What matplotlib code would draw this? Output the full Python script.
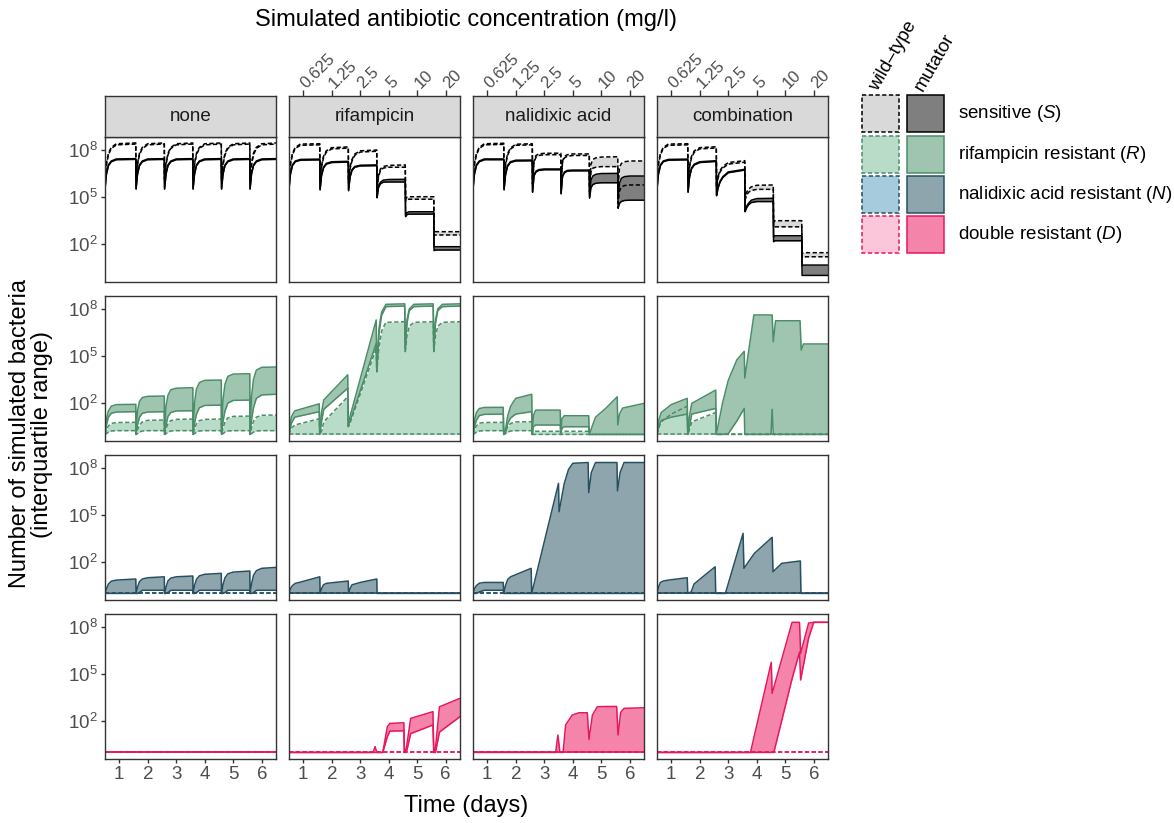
import numpy as np
import matplotlib
matplotlib.use("Agg")
import matplotlib.pyplot as plt
from matplotlib.patches import Rectangle
from matplotlib.ticker import NullLocator

plt.rcParams["font.family"] = ["Liberation Sans", "DejaVu Sans"]
plt.rcParams["mathtext.fontset"] = "custom"
plt.rcParams["mathtext.rm"] = "Liberation Sans"
plt.rcParams["mathtext.it"] = "Liberation Sans:italic"
plt.rcParams["mathtext.bf"] = "Liberation Sans:bold"

# %% data: log10(number of bacteria)
treatments = ["none", "rifampicin", "nalidixic acid", "combination"]
conc_ticks = [1, 2, 3, 4, 5, 6]
conc_labels = ["0.625", "1.25", "2.5", "5", "10", "20"]
day_ticks = [1, 2, 3, 4, 5, 6]
legend_labels = [r"sensitive ($\mathit{S}$)", r"rifampicin resistant ($\mathit{R}$)",
                 r"nalidixic acid resistant ($\mathit{N}$)", r"double resistant ($\mathit{D}$)"]

t_flat = [0.50, 6.50]
flat_zero = [0.00, 0.00]

t_std = [0.50, 0.55, 0.62, 0.72, 0.90, 1.58,
         1.59, 1.64, 1.71, 1.81, 2.00, 2.58,
         2.59, 2.64, 2.71, 2.81, 3.00, 3.58,
         3.59, 3.64, 3.71, 3.81, 4.00, 4.58,
         4.59, 4.64, 4.71, 4.81, 5.00, 5.58,
         5.59, 5.64, 5.71, 5.81, 6.00, 6.50]

# --- sensitive (S)
none_S_wt_hi = [6.20, 7.15, 7.80, 8.17, 8.40, 8.45, 6.20, 7.15, 7.80, 8.17, 8.40, 8.45,
                6.20, 7.15, 7.80, 8.17, 8.40, 8.45, 6.20, 7.15, 7.80, 8.17, 8.40, 8.45,
                6.20, 7.15, 7.80, 8.17, 8.40, 8.45, 6.20, 7.15, 7.80, 8.17, 8.40, 8.45]
none_S_wt_lo = [6.10, 7.05, 7.70, 8.10, 8.33, 8.38, 6.10, 7.05, 7.70, 8.10, 8.33, 8.38,
                6.10, 7.05, 7.70, 8.10, 8.33, 8.38, 6.10, 7.05, 7.70, 8.10, 8.33, 8.38,
                6.10, 7.05, 7.70, 8.10, 8.33, 8.38, 6.10, 7.05, 7.70, 8.10, 8.33, 8.38]
none_S_mut_hi = [5.55, 6.50, 7.05, 7.30, 7.43, 7.45, 5.55, 6.50, 7.05, 7.30, 7.43, 7.45,
                 5.55, 6.50, 7.05, 7.30, 7.43, 7.45, 5.55, 6.50, 7.05, 7.30, 7.43, 7.45,
                 5.55, 6.50, 7.05, 7.30, 7.43, 7.45, 5.55, 6.50, 7.05, 7.30, 7.43, 7.45]
none_S_mut_lo = [5.50, 6.45, 7.00, 7.25, 7.38, 7.40, 5.50, 6.45, 7.00, 7.25, 7.38, 7.40,
                 5.50, 6.45, 7.00, 7.25, 7.38, 7.40, 5.50, 6.45, 7.00, 7.25, 7.38, 7.40,
                 5.50, 6.45, 7.00, 7.25, 7.38, 7.40, 5.50, 6.45, 7.00, 7.25, 7.38, 7.40]

rif_S_wt_hi = [6.20, 7.15, 7.80, 8.17, 8.38, 8.40, 6.10, 7.00, 7.60, 7.95, 8.15, 8.20,
               6.00, 6.90, 7.40, 7.75, 7.95, 8.00, 5.50, 6.40, 6.80, 6.95, 7.02, 7.05,
               4.90, 5.00, 5.02, 5.02, 5.02, 5.02, 2.75, 2.79, 2.79, 2.79, 2.79, 2.79]
rif_S_wt_lo = [6.10, 7.05, 7.70, 8.10, 8.30, 8.33, 6.00, 6.90, 7.50, 7.87, 8.07, 8.12,
               5.90, 6.80, 7.30, 7.67, 7.87, 7.92, 5.40, 6.30, 6.70, 6.85, 6.90, 6.90,
               4.75, 4.84, 4.86, 4.86, 4.86, 4.86, 2.55, 2.58, 2.58, 2.58, 2.58, 2.58]
rif_S_mut_hi = [5.55, 6.50, 7.05, 7.30, 7.40, 7.42, 5.50, 6.40, 6.90, 7.15, 7.25, 7.28,
                5.45, 6.30, 6.75, 6.95, 7.03, 7.05, 5.00, 5.70, 5.95, 6.08, 6.12, 6.13,
                3.85, 4.00, 4.06, 4.06, 4.06, 4.06, 1.80, 1.83, 1.83, 1.83, 1.83, 1.83]
rif_S_mut_lo = [5.50, 6.45, 7.00, 7.25, 7.35, 7.37, 5.45, 6.35, 6.85, 7.10, 7.20, 7.23,
                5.40, 6.25, 6.70, 6.90, 6.98, 7.00, 4.95, 5.60, 5.85, 5.95, 5.96, 5.96,
                3.75, 3.88, 3.91, 3.91, 3.91, 3.91, 1.58, 1.62, 1.62, 1.62, 1.62, 1.62]

nal_S_wt_hi = [6.20, 7.15, 7.80, 8.17, 8.40, 8.43, 6.10, 7.10, 7.75, 8.12, 8.37, 8.40,
               5.90, 7.30, 7.65, 7.75, 7.79, 7.80, 5.80, 7.30, 7.60, 7.70, 7.75, 7.75,
               5.60, 7.10, 7.40, 7.50, 7.55, 7.57, 5.50, 6.90, 7.15, 7.25, 7.30, 7.30]
nal_S_wt_lo = [6.10, 7.05, 7.70, 8.10, 8.33, 8.36, 6.00, 7.00, 7.65, 8.05, 8.30, 8.33,
               5.80, 7.20, 7.55, 7.65, 7.70, 7.70, 5.70, 7.20, 7.50, 7.60, 7.65, 7.65,
               5.30, 6.60, 6.85, 6.90, 6.94, 6.94, 4.60, 5.40, 5.65, 5.73, 5.77, 5.77]
nal_S_mut_hi = [5.55, 6.50, 7.05, 7.30, 7.43, 7.43, 5.50, 6.45, 7.00, 7.25, 7.35, 7.36,
                5.34, 6.40, 6.65, 6.75, 6.79, 6.79, 5.24, 6.35, 6.60, 6.70, 6.72, 6.72,
                5.00, 6.10, 6.35, 6.45, 6.50, 6.51, 4.90, 5.90, 6.20, 6.30, 6.34, 6.34]
nal_S_mut_lo = [5.50, 6.45, 7.00, 7.25, 7.38, 7.38, 5.45, 6.40, 6.95, 7.20, 7.30, 7.31,
                5.30, 6.35, 6.60, 6.70, 6.74, 6.74, 5.20, 6.30, 6.55, 6.65, 6.67, 6.67,
                4.92, 5.60, 5.80, 5.88, 5.91, 5.91, 4.28, 4.60, 4.72, 4.78, 4.80, 4.80]

comb_S_wt_hi = [6.20, 7.15, 7.80, 8.17, 8.38, 8.40, 6.10, 7.00, 7.60, 7.95, 8.15, 8.21,
                5.70, 6.30, 6.70, 6.95, 7.20, 7.32, 5.00, 5.30, 5.50, 5.65, 5.75, 5.77,
                3.40, 3.49, 3.49, 3.49, 3.49, 3.49, 1.40, 1.45, 1.45, 1.45, 1.45, 1.45]
comb_S_wt_lo = [6.10, 7.05, 7.70, 8.10, 8.30, 8.33, 6.00, 6.90, 7.50, 7.87, 8.07, 8.13,
                5.60, 6.20, 6.60, 6.85, 7.10, 7.22, 4.80, 5.10, 5.30, 5.42, 5.49, 5.49,
                3.05, 3.10, 3.10, 3.10, 3.10, 3.10, 1.15, 1.19, 1.19, 1.19, 1.19, 1.19]
comb_S_mut_hi = [5.55, 6.50, 7.05, 7.30, 7.40, 7.42, 5.34, 6.30, 6.85, 7.10, 7.25, 7.32,
                 5.13, 5.60, 6.00, 6.30, 6.60, 6.77, 4.10, 4.40, 4.60, 4.80, 4.90, 4.92,
                 2.45, 2.53, 2.53, 2.53, 2.53, 2.53, 0.60, 0.66, 0.66, 0.66, 0.66, 0.66]
comb_S_mut_lo = [5.50, 6.45, 7.00, 7.25, 7.35, 7.37, 5.30, 6.25, 6.80, 7.05, 7.20, 7.27,
                 5.08, 5.55, 5.95, 6.25, 6.55, 6.72, 4.06, 4.30, 4.50, 4.65, 4.71, 4.71,
                 2.15, 2.21, 2.21, 2.21, 2.21, 2.21, 0.00, 0.00, 0.00, 0.00, 0.00, 0.00]

# --- rifampicin resistant (R)
none_R_wt_hi = [0.00, 0.30, 0.55, 0.70, 0.76, 0.77, 0.00, 0.30, 0.60, 0.80, 0.90, 0.92,
                0.00, 0.35, 0.70, 0.88, 0.96, 0.98, 0.00, 0.35, 0.70, 0.88, 0.96, 0.98,
                0.00, 0.40, 0.80, 1.05, 1.15, 1.17, 0.00, 0.40, 0.85, 1.10, 1.22, 1.24]
none_R_wt_lo = [0.00, 0.05, 0.15, 0.22, 0.24, 0.24, 0.00, 0.05, 0.15, 0.22, 0.24, 0.24,
                0.00, 0.05, 0.15, 0.22, 0.24, 0.24, 0.00, 0.05, 0.15, 0.22, 0.24, 0.24,
                0.00, 0.05, 0.15, 0.22, 0.24, 0.24, 0.00, 0.05, 0.15, 0.22, 0.24, 0.24]
none_R_mut_hi = [0.00, 1.00, 1.50, 1.80, 1.90, 1.92, 0.10, 1.50, 2.10, 2.35, 2.43, 2.45,
                 0.10, 1.80, 2.50, 2.85, 2.95, 2.98, 0.10, 2.00, 2.90, 3.30, 3.45, 3.47,
                 0.10, 2.20, 3.20, 3.70, 3.85, 3.87, 0.10, 2.40, 3.50, 4.10, 4.28, 4.30]
none_R_mut_lo = [0.00, 0.60, 1.10, 1.35, 1.43, 1.45, 0.00, 0.60, 1.10, 1.35, 1.43, 1.45,
                 0.00, 0.60, 1.15, 1.40, 1.50, 1.51, 0.00, 0.70, 1.30, 1.70, 1.85, 1.87,
                 0.00, 0.80, 1.50, 2.00, 2.17, 2.19, 0.00, 0.90, 1.70, 2.30, 2.52, 2.56]

t_rif_R = [0.50, 0.58, 0.70, 1.56, 1.58, 1.64, 1.72, 2.56, 2.58, 2.62, 3.56, 3.58, 3.66,
           3.75, 3.90, 4.56, 4.58, 4.64, 4.72, 4.88, 5.56, 5.58, 5.64, 5.72, 5.88, 6.50]
rif_R_wt_hi = [0.00, 0.40, 0.60, 1.00, 0.00, 0.20, 0.80, 2.40, 0.50, 0.60, 5.50, 4.00, 5.60,
               6.60, 7.15, 7.19, 5.28, 6.30, 6.90, 7.15, 7.19, 5.28, 6.30, 6.90, 7.15, 7.19]
rif_R_mut_hi = [0.00, 1.10, 1.50, 1.95, 0.05, 1.40, 2.20, 3.80, 0.60, 1.00, 7.30, 4.10, 6.80,
                7.80, 8.30, 8.33, 5.50, 7.30, 8.00, 8.30, 8.33, 5.50, 7.30, 8.00, 8.30, 8.33]
rif_R_mut_lo = [0.00, 0.70, 1.10, 1.45, 0.00, 0.80, 1.60, 2.95, 0.50, 0.72, 5.80, 4.00, 6.50,
                7.60, 8.15, 8.19, 5.30, 7.10, 7.90, 8.15, 8.19, 5.30, 7.10, 7.90, 8.15, 8.19]

t_nal_R = [0.50, 0.55, 0.62, 0.72, 0.90, 1.56, 1.58, 1.64, 1.72, 1.82, 2.00, 2.56, 2.58, 2.62,
           2.70, 3.56, 3.58, 3.62, 3.70, 4.56, 4.58, 4.80, 5.15, 5.56, 5.58, 5.64, 5.75, 6.50]
nal_R_wt_hi = [0.00, 0.30, 0.55, 0.72, 0.76, 0.77, 0.00, 0.20, 0.50, 0.70, 0.80, 0.81, 0.00, 0.15,
               0.20, 0.20, 0.00, 0.15, 0.20, 0.20, 0.00, 0.00, 0.00, 0.00, 0.00, 0.00, 0.00, 0.00]
nal_R_wt_lo = [0.00, 0.05, 0.15, 0.22, 0.24, 0.24, 0.00, 0.05, 0.15, 0.22, 0.24, 0.24, 0.00, 0.00,
               0.00, 0.00, 0.00, 0.00, 0.00, 0.00, 0.00, 0.00, 0.00, 0.00, 0.00, 0.00, 0.00, 0.00]
nal_R_mut_hi = [0.00, 0.90, 1.40, 1.65, 1.72, 1.73, 0.00, 0.30, 1.20, 1.80, 2.30, 2.56, 0.00, 1.20,
                1.55, 1.55, 0.00, 1.00, 1.19, 1.19, 0.00, 1.10, 1.65, 2.40, 0.60, 1.30, 1.68, 1.98]
nal_R_mut_lo = [0.00, 0.50, 0.90, 1.20, 1.28, 1.30, 0.00, 0.10, 0.70, 1.05, 1.30, 1.45, 0.00, 0.50,
                0.60, 0.60, 0.00, 0.40, 0.49, 0.49, 0.00, 0.00, 0.00, 0.00, 0.00, 0.00, 0.00, 0.00]

t_comb_R = [0.50, 0.56, 0.65, 1.00, 1.56, 1.58, 1.64, 1.72, 2.56, 2.58, 2.80, 3.00,
            3.30, 3.56, 3.58, 3.90, 4.50, 4.54, 4.58, 4.66, 5.52, 5.56, 5.64, 6.50]
comb_R_wt_hi = [0.00, 0.40, 0.80, 1.30, 1.80, 0.00, 0.30, 0.80, 1.40, 0.00, 0.00, 0.00,
                0.00, 0.00, 0.00, 0.00, 0.00, 0.00, 0.00, 0.00, 0.00, 0.00, 0.00, 0.00]
comb_R_mut_hi = [0.00, 0.90, 1.40, 1.90, 2.30, 0.00, 1.20, 1.98, 2.83, 0.00, 2.00, 3.45,
                 4.75, 5.30, 3.60, 7.62, 7.62, 7.62, 5.91, 7.25, 7.25, 5.38, 5.77, 5.77]
comb_R_mut_lo = [0.00, 0.50, 0.90, 1.10, 1.30, 0.00, 0.50, 1.30, 1.66, 0.00, 0.00, 0.05,
                 0.85, 1.66, 0.00, 0.00, 0.00, 1.60, 0.00, 0.00, 0.00, 0.00, 0.00, 0.00]

# --- nalidixic acid resistant (N)
none_N_mut_hi = [0.00, 0.30, 0.60, 0.78, 0.85, 0.92, 0.00, 0.40, 0.75, 0.92, 1.00, 1.06,
                 0.00, 0.40, 0.80, 0.98, 1.06, 1.11, 0.00, 0.50, 0.90, 1.12, 1.22, 1.28,
                 0.00, 0.55, 1.00, 1.25, 1.36, 1.43, 0.00, 0.60, 1.15, 1.45, 1.60, 1.66]
none_N_mut_lo = [0.00, 0.00, 0.00, 0.00, 0.00, 0.00, 0.00, 0.00, 0.05, 0.20, 0.20, 0.20,
                 0.00, 0.00, 0.05, 0.20, 0.20, 0.20, 0.00, 0.00, 0.05, 0.20, 0.20, 0.20,
                 0.00, 0.00, 0.05, 0.20, 0.20, 0.20, 0.00, 0.00, 0.05, 0.20, 0.20, 0.20]

rif_N_mut_hi = [0.00, 0.30, 0.50, 0.64, 0.72, 1.06, 0.00, 0.30, 0.55, 0.64, 0.68, 0.79,
                0.00, 0.30, 0.55, 0.60, 0.70, 0.92, 0.00, 0.00, 0.00, 0.00, 0.00, 0.00,
                0.00, 0.00, 0.00, 0.00, 0.00, 0.00, 0.00, 0.00, 0.00, 0.00, 0.00, 0.00]

t_nal_N = [0.50, 0.55, 0.62, 0.72, 0.90, 1.56, 1.58, 1.64, 1.72, 1.82, 2.54, 2.56, 3.50,
           3.52, 3.70, 3.85, 4.00, 4.54, 4.56, 4.65, 4.80, 5.55, 5.57, 5.66, 5.80, 6.50]
nal_N_mut_hi = [0.00, 0.30, 0.50, 0.65, 0.70, 0.70, 0.00, 0.50, 0.90, 1.06, 1.60, 0.00, 7.02,
                5.21, 7.00, 7.90, 8.30, 8.35, 6.43, 7.70, 8.35, 8.35, 6.54, 7.70, 8.35, 8.35]
nal_N_mut_lo = [0.00, 0.00, 0.00, 0.10, 0.20, 0.20, 0.00, 0.00, 0.00, 0.00, 0.00, 0.00, 0.00,
                0.00, 0.00, 0.00, 0.00, 0.00, 0.00, 0.00, 0.00, 0.00, 0.00, 0.00, 0.00, 0.00]

t_comb_N = [0.50, 0.55, 0.62, 0.72, 0.90, 1.56, 1.58, 1.70, 1.80, 2.00, 2.54,
            2.56, 2.90, 3.52, 3.55, 3.92, 4.54, 4.57, 4.88, 5.53, 5.55, 6.50]
comb_N_mut_hi = [0.00, 0.40, 0.70, 0.79, 0.85, 1.00, 0.00, 0.10, 0.60, 0.90, 1.70,
                 0.00, 0.00, 3.83, 1.60, 2.56, 3.58, 1.38, 1.92, 2.07, 0.00, 0.00]

# --- double resistant (D)
t_rif_D = [0.50, 3.45, 3.52, 3.58, 3.79, 3.95, 4.04, 4.53,
           4.55, 4.62, 4.77, 5.55, 5.58, 5.64, 5.78, 6.50]
rif_D_mut_hi = [0.00, 0.00, 0.37, 0.00, 0.00, 1.64, 1.85, 1.89,
                0.00, 0.30, 2.17, 2.60, 0.00, 0.30, 2.91, 3.45]
rif_D_mut_lo = [0.00, 0.00, 0.00, 0.00, 0.00, 1.00, 1.36, 1.38,
                0.00, 0.00, 1.20, 1.75, 0.00, 0.00, 1.30, 2.28]

t_nal_D = [0.50, 3.40, 3.48, 3.55, 3.66, 3.75, 3.98, 4.22, 4.51,
           4.57, 4.69, 4.86, 5.16, 5.54, 5.59, 5.68, 5.80, 6.50]
nal_D_mut_hi = [0.00, 0.00, 1.11, 0.00, 0.00, 1.75, 2.38, 2.53, 2.53,
                0.83, 2.38, 2.91, 2.93, 2.93, 1.11, 2.55, 2.81, 2.85]

t_comb_D = [0.50, 3.78, 4.51, 4.54, 4.60, 5.24, 5.50, 5.54, 5.82, 6.00, 6.50]
comb_D_mut_hi = [0.00, 0.00, 5.75, 3.77, 4.15, 8.30, 8.30, 6.32, 8.25, 8.30, 8.30]
comb_D_mut_lo = [0.00, 0.00, 0.00, 0.00, 0.00, 4.70, 6.40, 4.62, 7.30, 8.30, 8.30]

# (t, lower, upper) per genotype; lower None = at the 1-cell floor
panel_bands = [
    [((t_std, none_S_wt_lo, none_S_wt_hi), (t_std, none_S_mut_lo, none_S_mut_hi)),
     ((t_std, rif_S_wt_lo, rif_S_wt_hi), (t_std, rif_S_mut_lo, rif_S_mut_hi)),
     ((t_std, nal_S_wt_lo, nal_S_wt_hi), (t_std, nal_S_mut_lo, nal_S_mut_hi)),
     ((t_std, comb_S_wt_lo, comb_S_wt_hi), (t_std, comb_S_mut_lo, comb_S_mut_hi))],
    [((t_std, none_R_wt_lo, none_R_wt_hi), (t_std, none_R_mut_lo, none_R_mut_hi)),
     ((t_rif_R, None, rif_R_wt_hi), (t_rif_R, rif_R_mut_lo, rif_R_mut_hi)),
     ((t_nal_R, nal_R_wt_lo, nal_R_wt_hi), (t_nal_R, nal_R_mut_lo, nal_R_mut_hi)),
     ((t_comb_R, None, comb_R_wt_hi), (t_comb_R, comb_R_mut_lo, comb_R_mut_hi))],
    [((t_flat, None, flat_zero), (t_std, none_N_mut_lo, none_N_mut_hi)),
     ((t_flat, None, flat_zero), (t_std, None, rif_N_mut_hi)),
     ((t_flat, None, flat_zero), (t_nal_N, nal_N_mut_lo, nal_N_mut_hi)),
     ((t_flat, None, flat_zero), (t_comb_N, None, comb_N_mut_hi))],
    [((t_flat, None, flat_zero), (t_flat, None, flat_zero)),
     ((t_flat, None, flat_zero), (t_rif_D, rif_D_mut_lo, rif_D_mut_hi)),
     ((t_flat, None, flat_zero), (t_nal_D, None, nal_D_mut_hi)),
     ((t_flat, None, flat_zero), (t_comb_D, comb_D_mut_lo, comb_D_mut_hi))],
]

# line colour, wild-type fill, mutator fill per row
row_colors = [("#000000", "#d9d9d9", "#7f7f7f"),
              ("#4b8d69", "#b9dcc9", "#9fc5b0"),
              ("#26505f", "#a5cbdc", "#8fa5ad"),
              ("#e8175d", "#fcc6da", "#f584ab")]

# %% layout
W, H = 1174, 823
fig = plt.figure(figsize=(W / 100, H / 100), dpi=100)

def px_rect(x0, y0, x1, y1):
    return [x0 / W, 1 - y1 / H, (x1 - x0) / W, (y1 - y0) / H]

def counts(t, vals):
    if vals is None:
        return np.ones(len(t))
    return 10 ** np.asarray(vals, dtype=float)

col_x = [105, 289, 473, 657]
row_y = [137, 296, 455, 614]
PW, PH = 171, 145
dash = (0, (2.8, 1.6))
LW = 1.1
grey20 = "#333333"
grey30 = "#4d4d4d"

for r in range(4):
    edge, wt_fill, mut_fill = row_colors[r]
    for c in range(4):
        ax = fig.add_axes(px_rect(col_x[c], row_y[r], col_x[c] + PW, row_y[r] + PH))
        ax.set_yscale("log")
        ax.set_xlim(0.5, 6.5)
        ax.set_ylim(10 ** -0.42, 10 ** 8.83)
        wt, mut = panel_bands[r][c]
        for (t, lo, hi), fill in ((wt, wt_fill), (mut, mut_fill)):
            ax.fill_between(t, counts(t, lo), counts(t, hi), color=fill, lw=0)
        for (t, lo, hi), ls in ((wt, dash), (mut, "-")):
            ax.plot(t, counts(t, lo), color=edge, lw=LW, ls=ls, solid_joinstyle="round")
            ax.plot(t, counts(t, hi), color=edge, lw=LW, ls=ls, solid_joinstyle="round")

        ax.set_xticks(day_ticks)
        ax.set_yticks([1e2, 1e5, 1e8])
        ax.yaxis.set_minor_locator(NullLocator())
        ax.set_yticklabels([r"$10^{2}$", r"$10^{5}$", r"$10^{8}$"])
        for s in ax.spines.values():
            s.set_color(grey20)
            s.set_linewidth(1.0)
        ax.tick_params(axis="both", direction="out", length=3.2, width=1.0, color=grey20,
                       labelsize=13.5, labelcolor=grey30, pad=2)
        if c > 0:
            ax.tick_params(axis="y", length=0, labelleft=False)
        if r < 3:
            ax.tick_params(axis="x", length=0, labelbottom=False)

# strips with the concentration axis on top
for c in range(4):
    sax = fig.add_axes(px_rect(col_x[c], 96, col_x[c] + PW, 137))
    sax.set_facecolor("#d9d9d9")
    sax.set_xlim(0.5, 6.5)
    sax.set_yticks([])
    for s in sax.spines.values():
        s.set_color(grey20)
        s.set_linewidth(1.0)
    sax.text(0.5, 0.5, treatments[c], transform=sax.transAxes, ha="center", va="center",
             fontsize=13.5, color="#1a1a1a")
    if c > 0:
        sax.xaxis.tick_top()
        sax.set_xticks(conc_ticks)
        sax.set_xticklabels(conc_labels, rotation=45, ha="left", va="center",
                            rotation_mode="anchor")
        sax.tick_params(axis="x", direction="out", length=4.5, width=1.0, color=grey20,
                        labelsize=12, labelcolor=grey30, pad=3)
    else:
        sax.set_xticks([])

fig.text(466 / W, 1 - 20 / H, "Simulated antibiotic concentration (mg/l)", ha="center",
         va="center", fontsize=17, color="black")
fig.text(466 / W, 1 - 806 / H, "Time (days)", ha="center", va="center", fontsize=17)
fig.text(31 / W, 1 - 434 / H, "Number of simulated bacteria\n(interquartile range)",
         rotation=90, ha="center", va="center", fontsize=17, linespacing=1.05)

# %% legend
lax = fig.add_axes([0, 0, 1, 1])
lax.set_xlim(0, W)
lax.set_ylim(H, 0)
lax.axis("off")
lax.patch.set_alpha(0)

sq = 37
leg_x = [862, 907]
leg_y = [95, 136, 176, 216]
for i, (edge, wt_fill, mut_fill) in enumerate(row_colors):
    lax.add_patch(Rectangle((leg_x[0], leg_y[i]), sq, sq, facecolor=wt_fill, edgecolor=edge,
                            lw=LW, ls=dash))
    lax.add_patch(Rectangle((leg_x[1], leg_y[i]), sq, sq, facecolor=mut_fill, edgecolor=edge,
                            lw=LW))
    lax.text(958, leg_y[i] + sq / 2, legend_labels[i], ha="left", va="center", fontsize=13.5,
             color="black")

lax.text(leg_x[0] + 12, 90, "wild\u2013type", rotation=60, ha="left", va="center",
         rotation_mode="anchor", fontsize=13.5)
lax.text(leg_x[1] + 12, 90, "mutator", rotation=60, ha="left", va="center",
         rotation_mode="anchor", fontsize=13.5)

fig.savefig("out.png", dpi=100)
